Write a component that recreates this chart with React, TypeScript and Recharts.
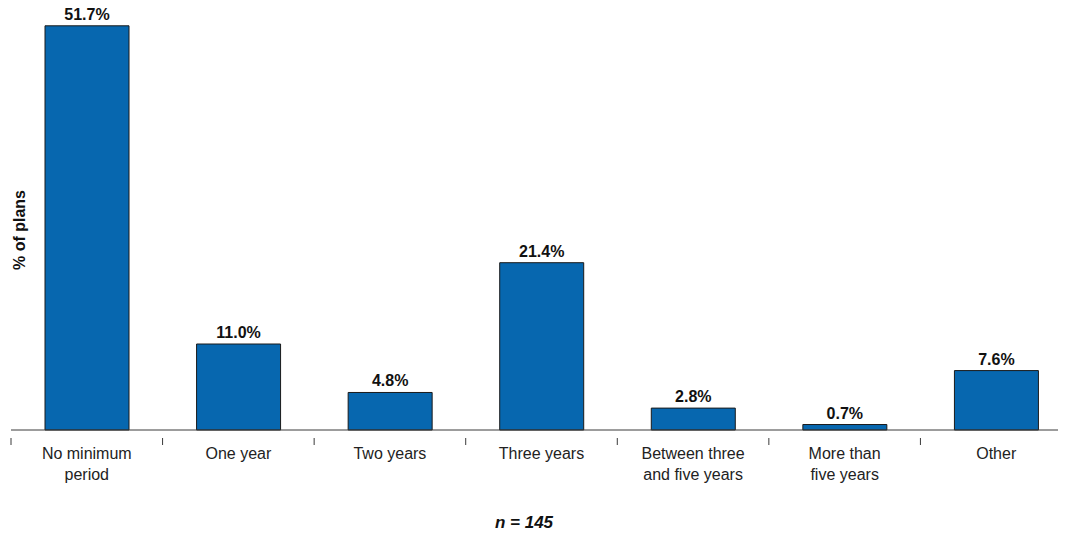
import { Bar, BarChart, LabelList, XAxis, YAxis } from "recharts";

const categories = [
  "No minimum\nperiod",
  "One year",
  "Two years",
  "Three years",
  "Between three\nand five years",
  "More than\nfive years",
  "Other",
];
const planShares = [51.7, 11.0, 4.8, 21.4, 2.8, 0.7, 7.6];

const data = categories.map((name, i) => ({ name, value: planShares[i] }));

const CHART_W = 1080;
const PLOT_LEFT = 11;
const PLOT_RIGHT = 1072;
const STEP = (PLOT_RIGHT - PLOT_LEFT) / categories.length;

const font = "'Liberation Sans', Arial, sans-serif";

// category labels centred under each bar, tick marks sit on the category boundaries
function CategoryTick(props: any) {
  const { x, y, payload, index } = props;
  const lines = String(payload.value).split("\n");
  const left = x - STEP / 2;
  return (
    <g>
      <line x1={left} y1={y} x2={left} y2={y + 7} stroke="#3a3a3a" strokeWidth={1} />
      {index === categories.length - 1 && (
        <line x1={x + STEP / 2} y1={y} x2={x + STEP / 2} y2={y + 7} stroke="#3a3a3a" />
      )}
      <text x={x} y={y + 21} textAnchor="middle" fontSize={16} fill="#222" fontFamily={font}>
        {lines.map((l, i) => (
          <tspan key={i} x={x} dy={i === 0 ? 0 : 21}>
            {l}
          </tspan>
        ))}
      </text>
    </g>
  );
}

export default function App() {
  return (
    <div
      style={{
        margin: -8,
        width: 1066,
        height: 539,
        overflow: "hidden",
        position: "relative",
        background: "#fff",
      }}
    >
      <BarChart
        width={CHART_W}
        height={539}
        data={data}
        margin={{ top: 0, right: CHART_W - PLOT_RIGHT, left: 0, bottom: 39 }}
      >
        <XAxis
          dataKey="name"
          interval={0}
          height={70}
          tickLine={false}
          axisLine={{ stroke: "#3a3a3a" }}
          tick={<CategoryTick />}
        />
        <YAxis
          width={PLOT_LEFT}
          domain={[0, 55]}
          axisLine={false}
          tickLine={false}
          tick={false}
          label={() => (
            <text
              x={25}
              y={230}
              transform="rotate(-90 25 230)"
              textAnchor="middle"
              fontSize={16}
              fontWeight="bold"
              fill="#111"
              fontFamily={font}
            >
              % of plans
            </text>
          )}
        />
        <Bar
          dataKey="value"
          fill="#0767af"
          stroke="#1a1a1a"
          strokeWidth={1}
          barSize={84}
          isAnimationActive={false}
        >
          <LabelList
            dataKey="value"
            position="top"
            offset={6}
            formatter={(v: any) => `${Number(v).toFixed(1)}%`}
            style={{ fontSize: 16, fontWeight: "bold", fill: "#111", fontFamily: font }}
          />
        </Bar>
      </BarChart>
      <div
        style={{
          position: "absolute",
          left: 0,
          width: 1048,
          top: 513,
          textAlign: "center",
          fontFamily: font,
          fontSize: 17,
          fontWeight: "bold",
          fontStyle: "italic",
          color: "#111",
        }}
      >
        n = 145
      </div>
    </div>
  );
}
